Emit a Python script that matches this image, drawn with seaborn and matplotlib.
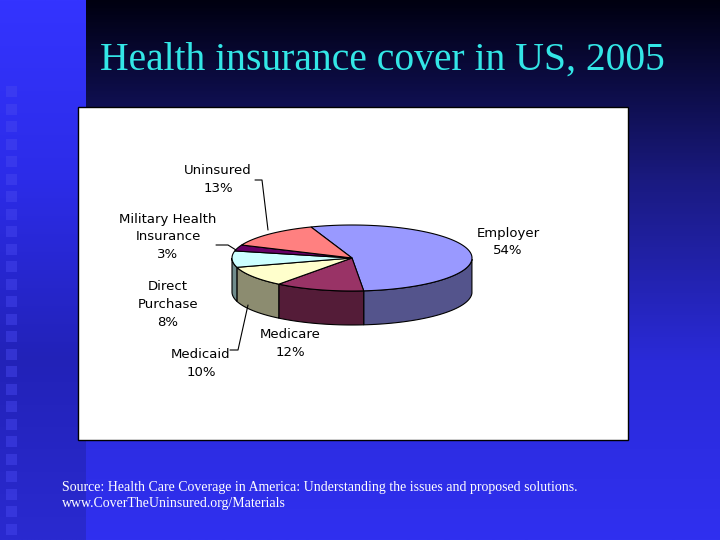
import numpy as np
import matplotlib
matplotlib.use("Agg")
import matplotlib.pyplot as plt
import seaborn as sns
from matplotlib.colors import LinearSegmentedColormap, to_rgb
from matplotlib.patches import Polygon, Rectangle

sns.set_theme(style="white")

# data
categories = ["Employer", "Medicare", "Medicaid", "Direct\nPurchase",
              "Military Health\nInsurance", "Uninsured"]
shares = [54, 12, 10, 8, 3, 13]
colors = ["#9999FF", "#993366", "#FFFFCC", "#CCFFFF", "#660066", "#FF8080"]

fig = plt.figure(figsize=(7.2, 5.4), dpi=100)
ax = fig.add_axes([0, 0, 1, 1])
ax.set_xlim(0, 720)
ax.set_ylim(540, 0)
ax.axis("off")

# slide background: dark-to-blue gradient plus brighter left strip
grad = np.linspace(0, 1, 256).reshape(-1, 1)
bg = LinearSegmentedColormap.from_list("bg", ["#000010", "#1a1a80", "#2a2ad8", "#3030f0"])
ax.imshow(grad, cmap=bg, extent=[0, 720, 540, 0], aspect="auto", zorder=0)
strip = LinearSegmentedColormap.from_list("st", ["#3434ff", "#2c2ce8", "#2222b8", "#2a2ad0"])
ax.imshow(grad, cmap=strip, extent=[0, 86, 540, 0], aspect="auto", zorder=1)
for yy in np.arange(86, 540, 17.5):
    ax.add_patch(Rectangle((6, yy), 11, 11, color="#4848f0", alpha=0.45, zorder=2, lw=0))

ax.text(382, 60, "Health insurance cover in US, 2005", ha="center", va="center",
        color="#33e6e6", fontsize=28.5, family="Liberation Serif", zorder=5)

# white chart area
ax.add_patch(Rectangle((78, 107), 550, 333, facecolor="white", edgecolor="black", lw=1, zorder=3))

# 3D pie
cx, cy, rx, ry, depth = 352, 258, 120, 33, 34
start = 110.0
bounds = start - np.cumsum([0] + shares) * 3.6


def darker(c, f=0.55):
    return tuple(v * f for v in to_rgb(c))


for i, col in enumerate(colors):
    a0, a1 = bounds[i], bounds[i + 1]
    t = np.radians(np.linspace(a1, a0, 100))
    # side wall: only front (lower) half visible
    front = t[np.sin(t) < 0]
    if len(front) > 1:
        xs = cx + rx * np.cos(front)
        ys = cy - ry * np.sin(front)
        pts = np.column_stack([np.r_[xs, xs[::-1]], np.r_[ys, ys[::-1] + depth]])
        ax.add_patch(Polygon(pts, facecolor=darker(col), edgecolor="black", lw=0.8, zorder=4))
for i, col in enumerate(colors):
    a0, a1 = bounds[i], bounds[i + 1]
    t = np.radians(np.linspace(a1, a0, 100))
    pts = np.column_stack([np.r_[cx, cx + rx * np.cos(t)], np.r_[cy, cy - ry * np.sin(t)]])
    ax.add_patch(Polygon(pts, facecolor=col, edgecolor="black", lw=0.8, zorder=5))

# labels with leader lines
label_pos = [(508, 242), (290, 344), (201, 363), (168, 304), (168, 237), (218, 180)]
leaders = [None, None,
           [(230, 350), (238, 350), (248, 305)],
           None,
           [(216, 245), (228, 245), (236, 250)],
           [(255, 180), (262, 180), (268, 230)]]
for (lx, ly), cat, val, ld in zip(label_pos, categories, shares, leaders):
    ax.text(lx, ly, f"{cat}\n{val}%", ha="center", va="center", fontsize=9.5,
            color="black", linespacing=1.5, zorder=6)
    if ld:
        xs, ys = zip(*ld)
        ax.plot(xs, ys, color="black", lw=0.8, zorder=6)

ax.text(62, 487, "Source: Health Care Coverage in America: Understanding the issues and proposed solutions.",
        color="white", fontsize=10, family="Liberation Serif", va="center", zorder=5)
ax.text(62, 504, "www.CoverTheUninsured.org/Materials",
        color="white", fontsize=10, family="Liberation Serif", va="center", zorder=5)

fig.savefig("out.png", dpi=100)
